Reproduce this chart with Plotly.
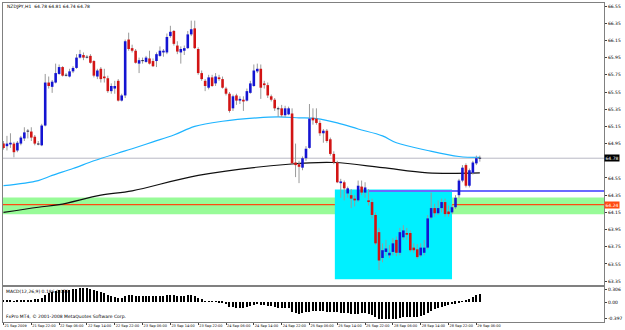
import plotly.graph_objects as go

# ---------------- data ----------------
opens = [64.95,64.92,64.94,64.95,64.87,64.95,65.01,65.10,65.09,65.03,64.95,64.93,65.16,65.66,65.61,65.66,65.76,65.84,65.75,65.73,
         65.79,65.83,65.95,65.98,65.96,65.97,65.91,65.73,65.82,65.73,65.71,65.56,65.59,65.68,65.45,65.51,66.16,66.06,66.03,65.88,
         65.92,65.90,65.94,65.91,65.91,65.97,66.01,66.01,66.20,66.26,66.09,66.01,66.03,66.06,66.22,66.29,66.05,65.77,65.68,65.60,
         65.72,65.65,65.72,65.70,65.59,65.53,65.36,65.51,65.45,65.46,65.45,65.54,65.62,65.79,65.82,65.65,65.63,65.50,65.46,65.36,
         65.36,65.28,65.29,65.30,64.73,64.71,64.67,64.78,64.90,65.25,65.24,65.19,65.07,65.10,65.00,64.83,64.73,64.49,64.50,64.37,
         64.35,64.31,64.29,64.45,64.38,64.29,64.27,64.12,63.92,63.62,63.69,63.65,63.69,63.83,63.68,63.86,63.91,63.91,63.74,63.72,
         63.65,63.68,63.74,64.09,64.20,64.14,64.20,64.27,64.16,64.15,64.21,64.35,64.52,64.70,64.46,64.61,64.72,64.78]
highs = [64.98,65.04,65.07,64.97,64.98,65.04,65.14,65.12,65.14,65.05,64.98,65.18,65.76,65.73,65.69,65.88,65.87,65.85,65.77,65.82,
         65.85,65.99,66.04,66.01,65.98,65.99,65.92,65.82,65.84,65.82,65.74,65.65,65.68,65.70,65.53,66.16,66.24,66.10,66.05,65.95,
         65.95,65.97,66.03,65.94,66.01,66.08,66.05,66.23,66.32,66.27,66.14,66.08,66.09,66.26,66.38,66.38,66.07,65.80,65.70,65.75,
         65.75,65.77,65.75,65.73,65.61,65.55,65.52,65.53,65.50,65.50,65.59,65.68,65.87,65.88,65.87,65.68,65.66,65.52,65.48,65.38,
         65.40,65.39,65.38,65.36,64.95,64.75,64.80,64.92,65.41,65.36,65.36,65.22,65.12,65.12,65.02,64.86,64.75,64.54,64.52,64.45,
         64.42,64.35,64.52,64.52,64.50,64.42,64.31,64.15,63.97,63.79,63.83,63.77,63.85,63.87,63.97,64.00,63.97,63.94,63.79,63.78,
         63.79,63.83,64.12,64.38,64.25,64.29,64.31,64.31,64.23,64.24,64.35,64.54,64.70,64.72,64.66,64.75,64.81,64.81]
lows = [64.88,64.87,64.90,64.79,64.85,64.93,64.98,65.01,64.98,64.93,64.93,64.92,65.15,65.59,65.54,65.65,65.75,65.73,65.73,65.72,
        65.77,65.82,65.94,65.92,65.94,65.88,65.72,65.70,65.66,65.66,65.54,65.53,65.53,65.44,65.44,65.48,66.03,66.01,65.88,65.77,
        65.88,65.89,65.87,65.84,65.84,65.96,65.96,65.99,66.18,66.09,65.99,65.88,65.98,66.05,66.20,66.05,65.75,65.68,65.56,65.58,
        65.61,65.62,65.68,65.59,65.51,65.31,65.33,65.40,65.41,65.33,65.44,65.53,65.61,65.77,65.47,65.59,65.48,65.44,65.33,65.26,
        65.26,65.26,65.28,64.70,64.56,64.49,64.64,64.75,64.89,65.17,65.17,65.04,64.96,64.96,64.81,64.71,64.49,64.32,64.29,64.32,
        64.20,64.22,64.27,64.35,64.32,64.23,64.08,63.77,63.48,63.57,63.64,63.62,63.65,63.64,63.65,63.83,63.83,63.69,63.68,63.61,
        63.63,63.65,63.72,64.07,64.10,64.12,64.15,64.10,64.10,64.13,64.19,64.32,64.50,64.44,64.44,64.59,64.70,64.74]
closes = [64.90,64.95,64.96,64.85,64.96,65.02,65.08,65.09,65.02,64.95,64.94,65.16,65.66,65.62,65.67,65.77,65.84,65.74,65.74,65.79,
          65.83,65.95,65.99,65.95,65.95,65.89,65.74,65.80,65.70,65.71,65.56,65.62,65.62,65.45,65.51,66.14,66.05,66.03,65.89,65.92,
          65.91,65.95,65.88,65.85,65.99,66.03,66.03,66.19,66.25,66.11,66.02,66.05,66.06,66.22,66.28,66.06,65.77,65.70,65.62,65.72,
          65.62,65.73,65.70,65.60,65.53,65.33,65.50,65.45,65.47,65.44,65.56,65.65,65.80,65.82,65.60,65.63,65.51,65.46,65.36,65.35,
          65.28,65.36,65.36,64.72,64.70,64.68,64.78,64.89,65.24,65.22,65.19,65.07,65.10,64.98,64.83,64.73,64.50,64.51,64.43,64.43,
          64.31,64.29,64.46,64.38,64.44,64.27,64.12,63.79,63.59,63.71,63.73,63.68,63.79,63.68,63.92,63.94,63.89,63.71,63.71,63.63,
          63.74,63.74,64.08,64.20,64.14,64.20,64.27,64.13,64.13,64.21,64.32,64.52,64.67,64.46,64.64,64.73,64.78,64.78]

macd = [0.03,0.03,0.03,0.02,0.03,0.03,0.04,0.04,0.04,0.06,0.07,0.09,0.18,0.22,0.25,0.27,0.29,0.29,0.29,0.30,
        0.31,0.32,0.33,0.33,0.33,0.32,0.29,0.27,0.25,0.22,0.18,0.15,0.13,0.10,0.09,0.15,0.17,0.17,0.15,0.15,
        0.15,0.15,0.15,0.14,0.14,0.15,0.15,0.16,0.17,0.16,0.15,0.15,0.15,0.16,0.17,0.15,0.10,0.06,0.02,0.02,
        0.01,0.01,-0.01,-0.03,-0.06,-0.12,-0.13,-0.14,-0.14,-0.14,-0.12,-0.10,-0.07,-0.05,-0.07,-0.07,-0.09,-0.10,-0.12,-0.14,
        -0.15,-0.15,-0.14,-0.24,-0.28,-0.29,-0.28,-0.26,-0.24,-0.23,-0.23,-0.23,-0.23,-0.24,-0.25,-0.26,-0.26,-0.27,-0.28,-0.28,
        -0.29,-0.30,-0.29,-0.28,-0.28,-0.30,-0.32,-0.37,-0.42,-0.43,-0.43,-0.43,-0.42,-0.42,-0.40,-0.38,-0.37,-0.37,-0.36,-0.36,
        -0.34,-0.32,-0.28,-0.22,-0.18,-0.15,-0.12,-0.10,-0.08,-0.06,-0.04,-0.02,0.02,0.04,0.08,0.12,0.16,0.19]

# moving averages read at a few bars
ma_fast_idx = [0,10,14,20,26,33,37,43,49,55,63,73,79,85,90,96,102,109,113,122,131,137]
ma_fast_val = [64.46,64.52,64.58,64.66,64.75,64.84,64.89,64.97,65.05,65.15,65.21,65.25,65.26,65.25,65.24,65.19,65.12,65.04,64.96,64.87,64.80,64.79]
ma_slow_idx = [0,10,16,28,37,56,82,95,109,122,137]
ma_slow_val = [64.15,64.21,64.24,64.35,64.40,64.58,64.71,64.73,64.67,64.61,64.61]

tick_bars = [0,8,16,24,32,40,48,56,64,72,80,88,96,104,112,120,128,136]
tick_labels = ["21 Sep 2009","21 Sep 22:00","22 Sep 06:00","22 Sep 14:00","22 Sep 22:00","23 Sep 06:00",
               "23 Sep 14:00","23 Sep 22:00","24 Sep 06:00","24 Sep 14:00","24 Sep 22:00","25 Sep 06:00",
               "25 Sep 14:00","25 Sep 22:00","28 Sep 06:00","28 Sep 14:00","28 Sep 22:00","29 Sep 06:00"]
price_ticks = [66.55,66.35,66.15,65.95,65.75,65.55,65.35,65.15,64.95,64.55,64.35,64.15,63.95,63.75,63.55,63.35]
macd_ticks = [0.306,0.0,-0.397]
macd_tick_text = ["0.306","0.00","-0.397"]

bid = 64.78
support_line = 64.24
resist_line = 64.40
zone_low, zone_high = 64.127, 64.324
box_x0, box_x1, box_y0, box_y1 = 95.3, 129.0, 63.373, 64.417
title_text = "NZDJPY,H1  64.78 64.81 64.74 64.78"
macd_text = "MACD(12,26,9) 0.186 0.072"
copy_text = "FxPro MT4, \u00a9 2001-2008 MetaQuotes Software Corp."

# ---------------- figure ----------------
n = len(opens)
FONT = "DejaVu Sans"
fig = go.Figure()

# moving averages
fig.add_trace(go.Scatter(x=ma_fast_idx, y=ma_fast_val, mode="lines",
                         line=dict(color="#1EB4FF", width=1.2, shape="spline", smoothing=1.0),
                         xaxis="x", yaxis="y", hoverinfo="skip"))
fig.add_trace(go.Scatter(x=ma_slow_idx, y=ma_slow_val, mode="lines",
                         line=dict(color="#101010", width=1.2, shape="spline", smoothing=1.0),
                         xaxis="x", yaxis="y", hoverinfo="skip"))

# wicks
wx, wy = [], []
for i in range(n):
    wx += [i, i, None]
    wy += [lows[i], highs[i], None]
fig.add_trace(go.Scatter(x=wx, y=wy, mode="lines", line=dict(color="#9A9A9A", width=1),
                         xaxis="x", yaxis="y", hoverinfo="skip"))

# bodies
bx_up, by_up, bx_dn, by_dn, bx_dj, by_dj = [], [], [], [], [], []
for i in range(n):
    o, c = opens[i], closes[i]
    if abs(c - o) < 0.012:
        m = (o + c) / 2
        bx_dj += [i, i, None]
        by_dj += [m - 0.006, m + 0.006, None]
    elif c > o:
        bx_up += [i, i, None]
        by_up += [o, c, None]
    else:
        bx_dn += [i, i, None]
        by_dn += [o, c, None]
fig.add_trace(go.Scatter(x=bx_up, y=by_up, mode="lines", line=dict(color="#1414D2", width=2.6),
                         xaxis="x", yaxis="y", hoverinfo="skip"))
fig.add_trace(go.Scatter(x=bx_dn, y=by_dn, mode="lines", line=dict(color="#D21414", width=2.6),
                         xaxis="x", yaxis="y", hoverinfo="skip"))
fig.add_trace(go.Scatter(x=bx_dj, y=by_dj, mode="lines", line=dict(color="#202040", width=2.6),
                         xaxis="x", yaxis="y", hoverinfo="skip"))

# MACD histogram
fig.add_trace(go.Bar(x=list(range(n)), y=macd, marker=dict(color="#000000", line=dict(width=0)),
                     width=0.32, xaxis="x2", yaxis="y2", hoverinfo="skip"))

xr = [-0.14, 172.71]
axis_line = "#808080"
fig.update_layout(
    width=625, height=330,
    margin=dict(l=2, r=18, t=2, b=8),
    paper_bgcolor="white", plot_bgcolor="white",
    showlegend=False, bargap=0,
    font=dict(family=FONT, size=4.5, color="#000000"),
    xaxis=dict(domain=[0, 1], range=xr, anchor="y", showticklabels=False, ticks="",
               showgrid=False, zeroline=False, showline=True, mirror=True,
               linecolor=axis_line, linewidth=1),
    yaxis=dict(domain=[0.1156, 1], range=[63.304, 66.585], side="right", anchor="x",
               tickvals=price_ticks, ticktext=[f"{v:.2f}" for v in price_ticks],
               ticks="outside", ticklen=2, tickcolor="#404040",
               tickfont=dict(size=4.5, family=FONT),
               showgrid=False, zeroline=False, showline=True, mirror=True,
               linecolor=axis_line, linewidth=1),
    xaxis2=dict(domain=[0, 1], range=xr, anchor="y2",
                tickvals=tick_bars, ticktext=tick_labels, ticks="outside", ticklen=2,
                tickangle=0, automargin=False,
                tickcolor="#404040", ticklabelposition="outside right",
                tickfont=dict(size=3.5, family=FONT),
                showgrid=False, zeroline=False, showline=True, mirror=True,
                linecolor=axis_line, linewidth=1),
    yaxis2=dict(domain=[0, 0.109], range=[-0.488, 0.366], side="right", anchor="x2",
                tickvals=macd_ticks, ticktext=macd_tick_text, ticks="outside", ticklen=2,
                tickcolor="#404040", tickfont=dict(size=4.5, family=FONT),
                showgrid=False, zeroline=False, showline=True, mirror=True,
                linecolor=axis_line, linewidth=1),
)

shapes = [
    dict(type="rect", xref="x", yref="y", x0=box_x0, x1=box_x1, y0=box_y0, y1=box_y1,
         fillcolor="#00F0FF", line=dict(width=0), layer="below"),
    dict(type="rect", xref="x domain", yref="y", x0=0, x1=1, y0=zone_low, y1=zone_high,
         fillcolor="#98FB98", line=dict(width=0), layer="below"),
    dict(type="line", xref="x domain", yref="y", x0=0, x1=1, y0=bid, y1=bid,
         line=dict(color="#B8B8C4", width=1), layer="below"),
    dict(type="line", xref="x domain", yref="y", x0=0, x1=1, y0=support_line, y1=support_line,
         line=dict(color="#FF4A10", width=1.3), layer="below"),
    dict(type="line", xref="x", yref="y", x0=105, x1=xr[1], y0=resist_line, y1=resist_line,
         line=dict(color="#6A6AFF", width=2), layer="below"),
]
fig.update_layout(shapes=shapes)

annots = [
    dict(text=title_text, xref="paper", yref="paper", x=0.004, y=0.99, xanchor="left", yanchor="middle",
         showarrow=False, font=dict(size=4.5, family=FONT, color="#000000")),
    dict(text=macd_text, xref="paper", yref="paper", x=0.002, y=0.097, xanchor="left", yanchor="middle",
         showarrow=False, font=dict(size=4.5, family=FONT, color="#000000")),
    dict(text=copy_text, xref="paper", yref="paper", x=0.002, y=0.016, xanchor="left", yanchor="middle",
         showarrow=False, font=dict(size=4.5, family=FONT, color="#000000")),
    dict(text=f"{bid:.2f}", xref="paper", yref="y", x=1.0, y=bid, xanchor="left", yanchor="middle",
         showarrow=False, bgcolor="#000000", borderpad=0.5,
         font=dict(size=4.5, family=FONT, color="#FFFFFF")),
    dict(text=f"{support_line:.2f}", xref="paper", yref="y", x=1.0, y=support_line, xanchor="left",
         yanchor="middle", showarrow=False, bgcolor="#FF4A10", borderpad=0.5,
         font=dict(size=4.5, family=FONT, color="#FFFFFF")),
]
fig.update_layout(annotations=annots)

fig.write_html("out.html")
